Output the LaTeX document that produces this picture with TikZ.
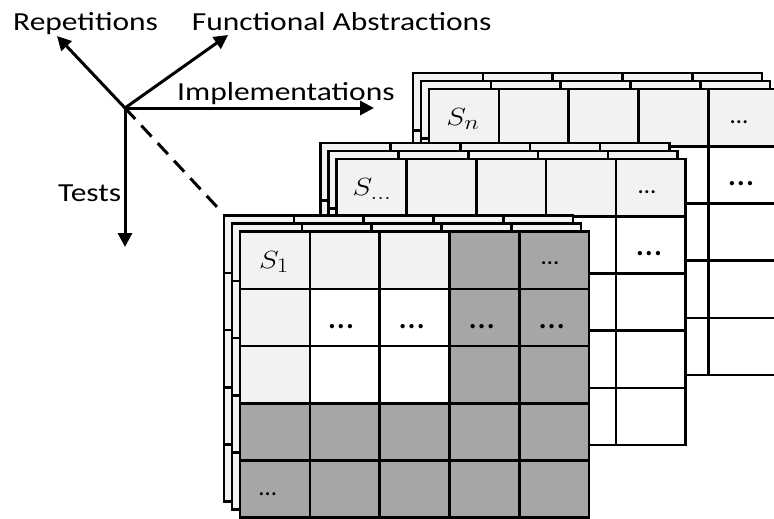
\documentclass[tikz,border=0pt]{standalone}
\usepackage{fontspec}
\setmainfont{Carlito}
\usetikzlibrary{arrows.meta}
\definecolor{lightg}{HTML}{F2F2F2}
\definecolor{darkg}{HTML}{A6A6A6}
\newcommand\cw{69.8}
\newcommand\ch{57.2}
\newcommand\gridlines[2]{%
  \foreach \i in {1,...,4} {\draw[gl] ({#1+\i*\cw},#2) -- ({#1+\i*\cw},{#2+5*\ch});}
  \foreach \j in {1,...,4} {\draw[gl] (#1,{#2+\j*\ch}) -- ({#1+5*\cw},{#2+\j*\ch});}
  \draw[gl] (#1,#2) rectangle ({#1+5*\cw},{#2+5*\ch});
}
\newcommand\backlayers[2]{%
  \fill[lightg] ({#1-16},{#2-16}) rectangle ({#1-16+5*\cw},{#2-16+5*\ch});
  \gridlines{#1-16}{#2-16}
  \fill[lightg] ({#1-8},{#2-8}) rectangle ({#1-8+5*\cw},{#2-8+5*\ch});
  \gridlines{#1-8}{#2-8}
}
\begin{document}
\begin{tikzpicture}[x=1pt,y=-1pt,
  gl/.style={line width=2.6pt, line join=miter},
  axis/.style={line width=3pt, -{Triangle[length=14pt,width=14pt]}},
  lbl/.style={anchor=base west, inner sep=0pt, xscale=1.21, font=\fontsize{26}{30}\selectfont},
  slbl/.style={inner sep=0pt, xscale=1.2, font=\fontsize{32}{36}\selectfont},
  bdots/.style={inner sep=0pt, font=\fontsize{36}{40}\selectfont},
  sdots/.style={inner sep=0pt, font=\fontsize{25}{29}\selectfont}]
\clip (0,0) rectangle (774,519);

% axes
\coordinate (O) at (125,108);
\coordinate (rep) at (57,36);
\coordinate (fa) at (228,35);
\coordinate (imp) at (374,108);
\coordinate (tst) at (125,247);
\coordinate (dsh) at (218,208);
\draw[axis] (O) -- (rep);
\draw[axis] (O) -- (fa);
\draw[axis] (O) -- (imp);
\draw[axis] (O) -- (tst);
\draw[line width=3pt, dash pattern=on 15pt off 9pt] (O) -- (dsh);
\node[lbl] (Lrep) at (13,30.7) {Repetitions};
\node[lbl] (Lfa) at (191.7,30.7) {Functional Abstractions};
\node[lbl] (Limp) at (177,100) {Implementations};
\node[lbl] (Ltst) at (58,201.7) {Tests};

% stack n
\backlayers{429}{89}
\fill[white] (429,89) rectangle ({429+5*\cw},{89+5*\ch});
\fill[lightg] (429,89) rectangle ({429+5*\cw},{89+\ch});
\gridlines{429}{89}
\node[slbl] (Sn) at (463,119) {$S_n$};
\node[sdots] (d31) at (739,122) {…};
\node[bdots] (d32) at (741,184) {…};

% stack ...
\backlayers{336.7}{159}
\fill[white] (336.7,159) rectangle ({336.7+5*\cw},{159+5*\ch});
\fill[lightg] (336.7,159) rectangle ({336.7+5*\cw},{159+\ch});
\gridlines{336.7}{159}
\node[slbl] (Sd) at (372,189) {$S_{\ldots}$};
\node[sdots] (d21) at (647,192) {…};
\node[bdots] (d22) at (649,254) {…};

% stack 1
\backlayers{240}{231.7}
\begin{scope}[shift={(240,231.7)}]
\fill[lightg] (0,0) rectangle (3*\cw,3*\ch);
\fill[white] (\cw,\ch) rectangle (3*\cw,3*\ch);
\fill[darkg] (3*\cw,0) rectangle (5*\cw,3*\ch);
\fill[darkg] (0,3*\ch) rectangle (5*\cw,5*\ch);
\end{scope}
\gridlines{240}{231.7}
\node[slbl] (S1) at (274,262) {$S_1$};
\node[sdots] (d11) at (550,263) {…};
\node[bdots] (d12) at (341,327) {…};
\node[bdots] (d13) at (411.7,327) {…};
\node[bdots] (d14) at (481.7,327) {…};
\node[bdots] (d15) at (551.7,327) {…};
\node[sdots] (d16) at (267.7,494) {…};
\end{tikzpicture}
\end{document}
